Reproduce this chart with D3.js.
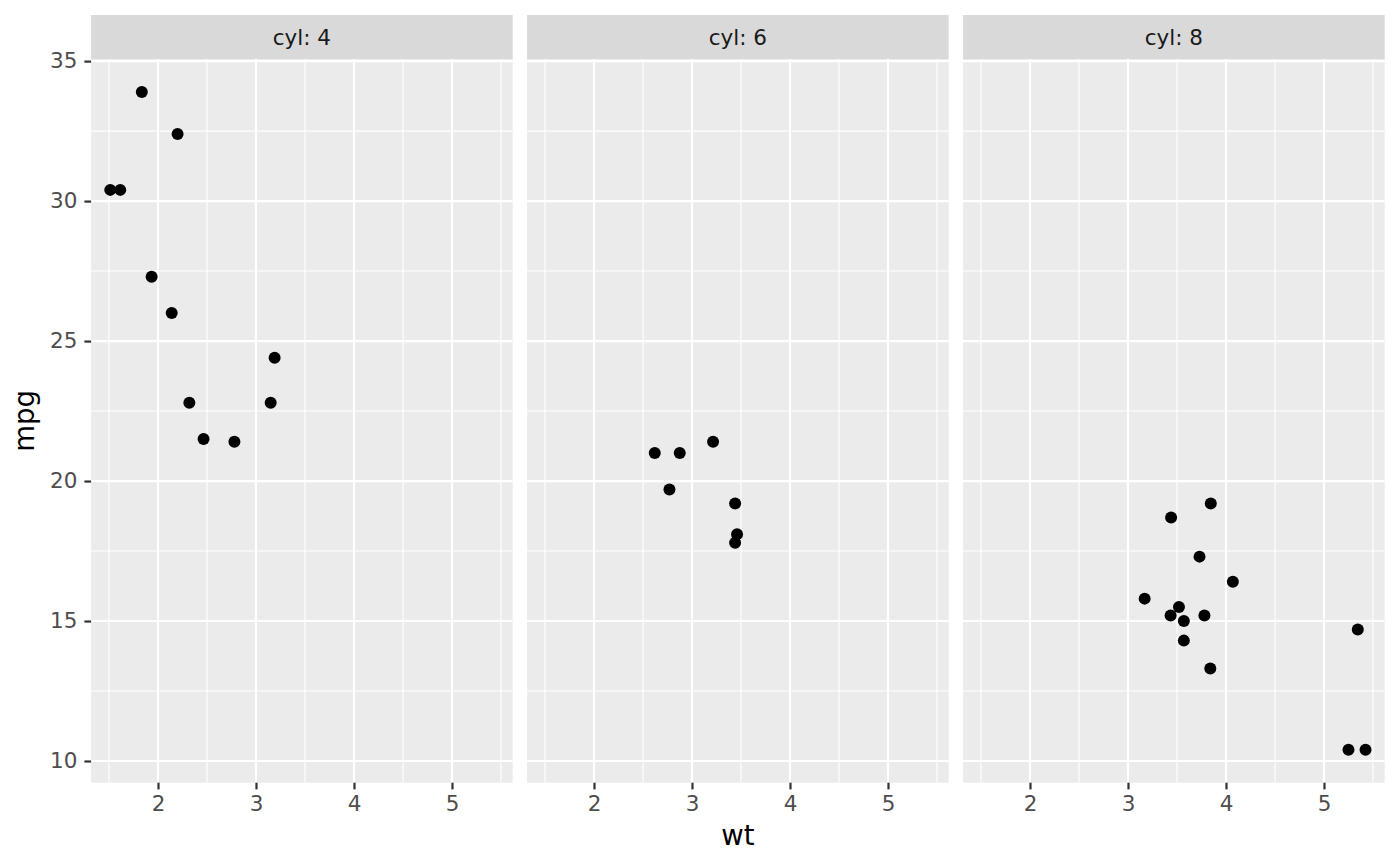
<!DOCTYPE html>
<html><head><meta charset="utf-8">
<script src="https://cdn.jsdelivr.net/npm/d3@7/dist/d3.min.js"></script>
<style>body{margin:0;background:#fff}</style>
</head><body><svg id="c" width="1400" height="866"></svg>
<script>
const facets = [4, 6, 8];
const wt4 = [2.320, 3.190, 3.150, 2.200, 1.615, 1.835, 2.465, 1.935, 2.140, 1.513, 2.780];
const mpg4 = [22.8, 24.4, 22.8, 32.4, 30.4, 33.9, 21.5, 27.3, 26.0, 30.4, 21.4];
const wt6 = [2.620, 2.875, 3.215, 3.460, 3.440, 3.440, 2.770];
const mpg6 = [21.0, 21.0, 21.4, 18.1, 19.2, 17.8, 19.7];
const wt8 = [3.440, 3.570, 4.070, 3.730, 3.780, 5.250, 5.424, 5.345, 3.520, 3.435, 3.840, 3.845, 3.170, 3.570];
const mpg8 = [18.7, 14.3, 16.4, 17.3, 15.2, 10.4, 10.4, 14.7, 15.5, 15.2, 13.3, 19.2, 15.8, 15.0];
const xTicks = [2, 3, 4, 5];
const yTicks = [10, 15, 20, 25, 30, 35];
const xMinor = [1.5, 2.5, 3.5, 4.5, 5.5];
const yMinor = [12.5, 17.5, 22.5, 27.5, 32.5];

(function () {
const series = [{wt: wt4, mpg: mpg4}, {wt: wt6, mpg: mpg6}, {wt: wt8, mpg: mpg8}];
const allW = wt4.concat(wt6, wt8), allM = mpg4.concat(mpg6, mpg8);
const [wmin, wmax] = d3.extent(allW), [mmin, mmax] = d3.extent(allM);
const wpad = (wmax - wmin) * 0.05, mpad = (mmax - mmin) * 0.05;

const svg = d3.select("#c");
const font = "DejaVu Sans";
const tickFs = 21.5, titleFs = 27.5;
const pTop = 59, pBottom = 782.7, stripTop = 15;
const panelLefts = [91.1, 527.1, 963.1], panelW = 421.6;

const y = d3.scaleLinear().domain([mmin - mpad, mmax + mpad]).range([pBottom, pTop]);

facets.forEach((cyl, i) => {
  const x0 = panelLefts[i];
  const x = d3.scaleLinear().domain([wmin - wpad, wmax + wpad]).range([x0, x0 + panelW]);
  const g = svg.append("g");
  g.append("rect").attr("x", x0).attr("y", pTop).attr("width", panelW).attr("height", pBottom - pTop).attr("fill", "#ebebeb");
  g.append("rect").attr("x", x0).attr("y", stripTop).attr("width", panelW).attr("height", pTop - stripTop).attr("fill", "#d9d9d9");
  g.append("text").attr("x", x0 + panelW / 2).attr("y", (stripTop + pTop) / 2).attr("dy", "0.35em")
    .attr("text-anchor", "middle").attr("font-family", font).attr("font-size", tickFs).attr("fill", "#1a1a1a")
    .text("cyl: " + cyl);
  g.selectAll(".xm").data(xMinor.filter(v => v >= x.domain()[0] && v <= x.domain()[1])).join("line")
    .attr("x1", d => x(d)).attr("x2", d => x(d)).attr("y1", pTop).attr("y2", pBottom)
    .attr("stroke", "#fff").attr("stroke-width", 1.1);
  g.selectAll(".ym").data(yMinor).join("line")
    .attr("x1", x0).attr("x2", x0 + panelW).attr("y1", d => y(d)).attr("y2", d => y(d))
    .attr("stroke", "#fff").attr("stroke-width", 1.1);
  g.selectAll(".xM").data(xTicks).join("line")
    .attr("x1", d => x(d)).attr("x2", d => x(d)).attr("y1", pTop).attr("y2", pBottom)
    .attr("stroke", "#fff").attr("stroke-width", 2.2);
  g.selectAll(".yM").data(yTicks).join("line")
    .attr("x1", x0).attr("x2", x0 + panelW).attr("y1", d => y(d)).attr("y2", d => y(d))
    .attr("stroke", "#fff").attr("stroke-width", 2.2);
  const xa = svg.append("g").attr("transform", `translate(0,${pBottom})`)
    .call(d3.axisBottom(x).tickValues(xTicks).tickFormat(d3.format("d")).tickSize(6.7).tickPadding(6.4));
  xa.select(".domain").remove();
  xa.selectAll("line").attr("stroke", "#333").attr("stroke-width", 2.2);
  xa.selectAll("text").attr("font-family", font).attr("font-size", tickFs).attr("fill", "#4d4d4d");
  const s = series[i];
  g.selectAll("circle").data(s.wt.map((w, k) => [w, s.mpg[k]])).join("circle")
    .attr("cx", d => x(d[0])).attr("cy", d => y(d[1])).attr("r", 6).attr("fill", "#000");
});

const ya = svg.append("g").attr("transform", `translate(${panelLefts[0]},0)`)
  .call(d3.axisLeft(y).tickValues(yTicks).tickSize(6.7).tickPadding(7));
ya.select(".domain").remove();
ya.selectAll("line").attr("stroke", "#333").attr("stroke-width", 2.2);
ya.selectAll("text").attr("font-family", font).attr("font-size", tickFs).attr("fill", "#4d4d4d");

svg.append("text").attr("x", 738).attr("y", 845).attr("text-anchor", "middle")
  .attr("font-family", font).attr("font-size", titleFs).attr("fill", "#000").text("wt");
svg.append("text").attr("transform", `translate(34,${(pTop + pBottom) / 2}) rotate(-90)`).attr("text-anchor", "middle")
  .attr("font-family", font).attr("font-size", titleFs).attr("fill", "#000").text("mpg");
})();
</script></body></html>
